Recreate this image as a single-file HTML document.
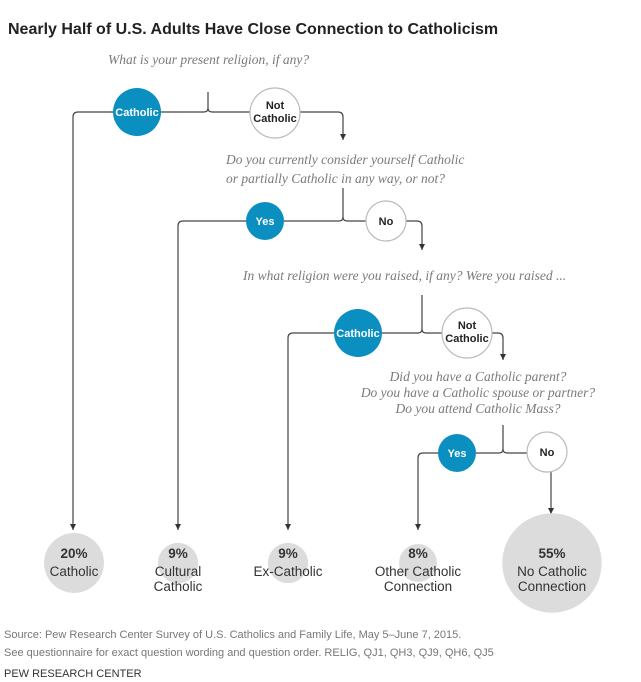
<!DOCTYPE html>
<html><head><meta charset="utf-8">
<style>
body{margin:0;background:#fff;}
svg{display:block;font-family:"Liberation Sans",sans-serif;}
.q{font-family:"Liberation Serif",serif;font-style:italic;fill:#7a7a7a;font-size:13.5px;}
.ln{stroke:#444;stroke-width:1.2;fill:none;}
.cw{fill:#fff;stroke:#bbb;stroke-width:1.2;}
.cb{fill:#0a8fc0;}
.tw{fill:#fff;font-weight:bold;font-size:11px;text-anchor:middle;}
.tk{fill:#222;font-weight:bold;font-size:11px;text-anchor:middle;}
.res{fill:#333;font-size:13.5px;text-anchor:middle;}
.foot{fill:#777;font-size:11px;}
</style></head><body>
<svg id="chart" width="641" height="682" viewBox="0 0 641 682">
<defs><marker id="ar" markerWidth="6" markerHeight="6" refX="6" refY="3" orient="auto" markerUnits="userSpaceOnUse"><path d="M0,0 L6,3 L0,6 z" fill="#333"/></marker></defs>
<text x="8" y="34" font-size="16" font-weight="bold" fill="#222">Nearly Half of U.S. Adults Have Close Connection to Catholicism</text>

<!-- Level 1 -->
<text class="q" x="108" y="64">What is your present religion, if any?</text>
<path class="ln" d="M208,92 V108 Q208,112 204,112 H78 Q73,112 73,117 V530" marker-end="url(#ar)"/>
<path class="ln" d="M208,108 Q208,112 212,112 H338 Q343,112 343,117 V140" marker-end="url(#ar)"/>
<g><circle class="cb" cx="137" cy="112" r="24"/><text class="tw" x="137" y="116">Catholic</text></g>
<g><circle class="cw" cx="275" cy="113" r="25"/><text class="tk" x="275" y="109">Not</text><text class="tk" x="275" y="122">Catholic</text></g>

<!-- Level 2 -->
<text class="q" x="226" y="164"><tspan x="226">Do you currently consider yourself Catholic</tspan><tspan x="226" y="183">or partially Catholic in any way, or not?</tspan></text>
<path class="ln" d="M343,188 V217 Q343,221 339,221 H183 Q178,221 178,226 V530" marker-end="url(#ar)"/>
<path class="ln" d="M343,217 Q343,221 347,221 H417 Q422,221 422,226 V250" marker-end="url(#ar)"/>
<g><circle class="cb" cx="265" cy="221" r="19"/><text class="tw" x="265" y="225">Yes</text></g>
<g><circle class="cw" cx="386" cy="221" r="20"/><text class="tk" x="386" y="225">No</text></g>

<!-- Level 3 -->
<text class="q" x="243" y="280">In what religion were you raised, if any? Were you raised ...</text>
<path class="ln" d="M422,295 V329 Q422,333 418,333 H293 Q288,333 288,338 V530" marker-end="url(#ar)"/>
<path class="ln" d="M422,329 Q422,333 426,333 H498 Q503,333 503,338 V360" marker-end="url(#ar)"/>
<g><circle class="cb" cx="358" cy="333" r="24"/><text class="tw" x="358" y="337">Catholic</text></g>
<g><circle class="cw" cx="467" cy="333" r="25"/><text class="tk" x="467" y="329">Not</text><text class="tk" x="467" y="342">Catholic</text></g>

<!-- Level 4 -->
<text class="q" text-anchor="middle"><tspan x="478" y="381">Did you have a Catholic parent?</tspan><tspan x="478" y="397">Do you have a Catholic spouse or partner?</tspan><tspan x="478" y="413">Do you attend Catholic Mass?</tspan></text>
<path class="ln" d="M503,425 V449 Q503,453 499,453 H423 Q418,453 418,458 V530" marker-end="url(#ar)"/>
<path class="ln" d="M503,449 Q503,453 507,453 H530"/>
<path class="ln" d="M551,472 V514" marker-end="url(#ar)"/>
<g><circle class="cb" cx="457" cy="453" r="19"/><text class="tw" x="457" y="457">Yes</text></g>
<g><circle class="cw" cx="547" cy="452" r="20"/><text class="tk" x="547" y="456">No</text></g>

<g id="outcomes"></g>

<text class="foot" x="4" y="638">Source: Pew Research Center Survey of U.S. Catholics and Family Life, May 5–June 7, 2015.</text>
<text class="foot" x="4" y="656">See questionnaire for exact question wording and question order. RELIG, QJ1, QH3, QJ9, QH6, QJ5</text>
<text x="4" y="677" font-size="11" fill="#333">PEW RESEARCH CENTER</text>
</svg>
<script>
const categories = ["Catholic", "Cultural Catholic", "Ex-Catholic", "Other Catholic Connection", "No Catholic Connection"];
const values = [20, 9, 9, 8, 55];
const labelLines = [["Catholic"], ["Cultural", "Catholic"], ["Ex-Catholic"], ["Other Catholic", "Connection"], ["No Catholic", "Connection"]];
const centersX = [74, 178, 288, 418, 552];
const NS = "http://www.w3.org/2000/svg";
const g = document.getElementById("outcomes");
function rScale(v){ return 6.7 * Math.sqrt(v); }
categories.forEach((c, i) => {
  const r = rScale(values[i]);
  const grp = document.createElementNS(NS, "g");
  
  
  const cy = 563;
  const circ = document.createElementNS(NS, "circle");
  circ.setAttribute("cx", centersX[i]); circ.setAttribute("cy", cy); circ.setAttribute("r", r);
  circ.setAttribute("fill", "#dcdcdc");
  grp.appendChild(circ);
  const t = document.createElementNS(NS, "text");
  t.setAttribute("class", "res"); t.setAttribute("x", centersX[i]); t.setAttribute("y", 558);
  t.setAttribute("font-weight", "bold");
  t.textContent = values[i] + "%";
  grp.appendChild(t);
  labelLines[i].forEach((l, j) => {
    const tl = document.createElementNS(NS, "text");
    tl.setAttribute("class", "res"); tl.setAttribute("x", centersX[i]); tl.setAttribute("y", 576 + j * 15);
    tl.textContent = l;
    grp.appendChild(tl);
  });
  g.appendChild(grp);
});
</script>
</body></html>
